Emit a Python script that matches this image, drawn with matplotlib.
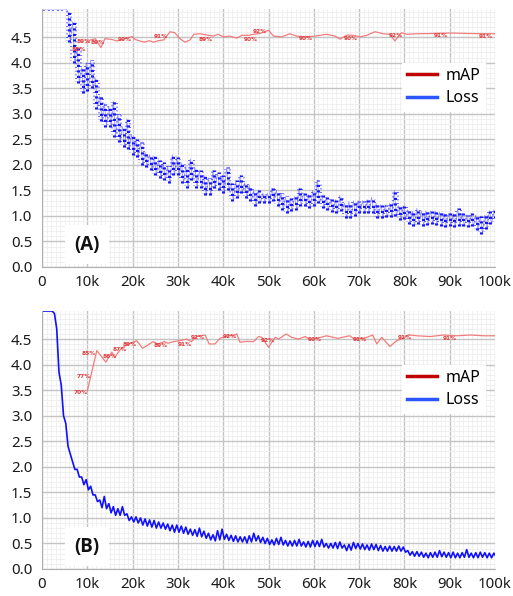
import numpy as np
import matplotlib
matplotlib.use("Agg")
import matplotlib.pyplot as plt
from matplotlib.lines import Line2D
from matplotlib.ticker import MultipleLocator

plt.rcParams['font.family'] = ['Noto Sans', 'DejaVu Sans']

# ---------------- data (iterations in thousands) ----------------
iters_k = list(range(0, 101))

# Panel A loss: lower / upper edge of the noisy band per 1k iterations (top = clipped)
lossA_lo = [5.05]*6 + [4.40, 4.00, 3.60, 3.40, 3.45, 3.50, 3.10, 2.85, 2.75, 2.75,
    2.55, 2.45, 2.35, 2.30, 2.20, 2.15, 2.00, 1.95, 1.90, 1.80,
    1.75, 1.70, 1.65, 1.80, 1.80, 1.65, 1.55, 1.70, 1.55, 1.55,
    1.40, 1.40, 1.55, 1.50, 1.45, 1.50, 1.30, 1.35, 1.45, 1.35,
    1.30, 1.20, 1.25, 1.25, 1.25, 1.30, 1.20, 1.12, 1.05, 1.10,
    1.12, 1.20, 1.20, 1.15, 1.20, 1.25, 1.15, 1.12, 1.08, 1.05,
    1.10, 0.95, 0.95, 1.00, 1.05, 1.05, 1.05, 1.05, 0.95, 0.95,
    0.97, 0.98, 1.00, 0.92, 0.93, 0.85, 0.80, 0.85, 0.80, 0.82,
    0.85, 0.82, 0.80, 0.78, 0.80, 0.78, 0.80, 0.80, 0.78, 0.80,
    0.72, 0.65, 0.75, 0.85, 0.95]
lossA_hi = [5.05]*6 + [5.00, 4.80, 4.30, 3.90, 4.00, 4.05, 3.70, 3.35, 3.20, 3.15,
    3.25, 3.00, 2.75, 2.90, 2.60, 2.50, 2.45, 2.25, 2.20, 2.17,
    2.10, 2.05, 1.97, 2.20, 2.15, 2.04, 1.97, 2.12, 1.95, 1.90,
    1.80, 1.75, 1.90, 1.85, 1.80, 1.95, 1.65, 1.70, 1.80, 1.65,
    1.60, 1.50, 1.50, 1.45, 1.45, 1.55, 1.50, 1.45, 1.38, 1.35,
    1.38, 1.55, 1.45, 1.42, 1.50, 1.70, 1.40, 1.37, 1.33, 1.32,
    1.40, 1.25, 1.28, 1.30, 1.30, 1.30, 1.32, 1.37, 1.25, 1.22,
    1.22, 1.25, 1.50, 1.20, 1.20, 1.12, 1.10, 1.15, 1.10, 1.10,
    1.10, 1.10, 1.08, 1.05, 1.05, 1.05, 1.15, 1.05, 1.02, 1.05,
    1.02, 1.00, 1.02, 1.10, 1.12]

# Panel B loss
lossB_lo = [5.05]*3 + [4.70, 3.60, 2.85, 2.25, 1.95, 1.80, 1.65, 1.55, 1.45, 1.32,
    1.20, 1.18, 1.10, 1.05, 1.05, 1.05, 0.95, 0.92, 0.90, 0.86,
    0.84, 0.82, 0.80, 0.80, 0.78, 0.75, 0.72, 0.72, 0.70, 0.68,
    0.66, 0.64, 0.63, 0.60, 0.57, 0.55, 0.57, 0.58, 0.56, 0.54,
    0.53, 0.53, 0.51, 0.53, 0.55, 0.52, 0.50, 0.48, 0.47, 0.48,
    0.47, 0.45, 0.45, 0.45, 0.45, 0.43, 0.43, 0.44, 0.44, 0.43,
    0.41, 0.41, 0.40, 0.41, 0.36, 0.37, 0.40, 0.39, 0.38, 0.37,
    0.38, 0.36, 0.35, 0.35, 0.35, 0.35, 0.35, 0.33, 0.27, 0.25,
    0.25, 0.23, 0.22, 0.23, 0.23, 0.24, 0.23, 0.22, 0.22, 0.22,
    0.23, 0.23, 0.22, 0.22, 0.23, 0.22, 0.22, 0.24]
lossB_hi = [5.05]*3 + [5.00, 3.85, 3.00, 2.40, 2.10, 1.95, 1.80, 1.75, 1.62, 1.45,
    1.35, 1.42, 1.28, 1.22, 1.18, 1.22, 1.08, 1.02, 1.02, 1.00,
    0.98, 0.96, 0.95, 0.92, 0.90, 0.88, 0.86, 0.86, 0.84, 0.82,
    0.78, 0.77, 0.80, 0.74, 0.70, 0.67, 0.75, 0.78, 0.68, 0.66,
    0.65, 0.63, 0.63, 0.65, 0.70, 0.65, 0.62, 0.60, 0.57, 0.60,
    0.62, 0.56, 0.55, 0.56, 0.58, 0.53, 0.54, 0.56, 0.55, 0.58,
    0.50, 0.50, 0.52, 0.53, 0.47, 0.48, 0.52, 0.50, 0.49, 0.47,
    0.49, 0.48, 0.46, 0.44, 0.45, 0.44, 0.45, 0.43, 0.36, 0.34,
    0.34, 0.33, 0.31, 0.32, 0.33, 0.36, 0.33, 0.32, 0.33, 0.31,
    0.32, 0.38, 0.31, 0.32, 0.33, 0.32, 0.31, 0.31]

# mAP (%) series
mapA_iters = [9.7, 10.7, 11.8, 13.0, 13.9, 15.3, 16.6, 17.8, 19.9, 20.5, 21.6, 22.6,
    23.7, 24.6, 25.7, 26.9, 27.6, 28.3, 29.3, 30.5, 31.6, 32.7, 33.5, 34.9, 36.4,
    37.8, 38.9, 40.0, 41.5, 43.0, 44.1, 45.6, 46.7, 48.1, 50.0, 51.1, 52.9, 54.7,
    56.2, 58.1, 60.3, 62.8, 64.7, 65.8, 67.3, 68.7, 70.2, 71.7, 73.5, 75.3, 76.8,
    77.9, 78.7, 79.4, 80.5, 82.7, 85.7, 90.1, 94.5, 100.0]
mapA_vals = [87.8, 88.9, 89.3, 85.9, 89.4, 89.1, 88.5, 89.1, 90.2, 89.1, 88.5, 88.0,
    88.6, 88.0, 88.6, 88.9, 90.6, 92.1, 91.7, 89.3, 88.0, 88.9, 91.1, 91.3, 90.8,
    90.4, 91.1, 90.1, 90.4, 89.6, 90.7, 90.7, 91.1, 91.4, 92.7, 90.4, 90.1, 91.3,
    90.4, 90.1, 90.4, 91.1, 90.4, 89.2, 90.8, 90.7, 90.1, 90.7, 92.1, 91.3, 91.1,
    88.5, 90.4, 91.7, 91.1, 91.3, 91.4, 91.6, 91.4, 91.3]
mapA_label_iters = [9.6, 10.7, 13.8, 19.9, 27.8, 37.8, 47.7, 49.6, 59.8, 69.8, 79.7, 89.6, 99.6]
mapA_label_texts = ["88%", "89%", "89%", "90%", "91%", "89%", "90%", "92%", "90%", "90%", "92%", "91%", "91%"]

mapB_iters = [10.0, 10.9, 12.1, 14.1, 15.4, 16.1, 17.1, 17.9, 19.0, 19.8, 20.9, 22.2,
    23.4, 24.5, 25.6, 27.0, 27.8, 29.0, 30.5, 31.9, 33.0, 34.1, 36.0, 36.9, 38.2,
    39.3, 40.8, 42.3, 43.0, 43.7, 45.2, 46.7, 47.8, 48.5, 50.0, 51.5, 52.2, 53.9,
    55.1, 56.6, 58.1, 59.2, 60.7, 62.8, 65.3, 67.9, 69.0, 71.2, 73.0, 73.9, 75.0,
    76.8, 78.3, 79.8, 80.9, 82.7, 85.7, 88.6, 91.6, 94.5, 97.5, 100.0]
mapB_vals = [69.7, 76.5, 85.5, 81.0, 84.9, 82.9, 85.5, 86.8, 88.1, 88.5, 89.4, 86.4,
    87.7, 89.0, 88.1, 89.0, 88.4, 89.0, 89.4, 90.0, 89.0, 91.0, 91.6, 88.1, 88.1,
    90.3, 91.3, 91.3, 92.1, 88.8, 89.1, 89.0, 91.0, 90.7, 86.8, 90.7, 90.0, 92.0,
    90.7, 90.0, 91.0, 89.8, 90.3, 91.3, 90.3, 91.3, 90.0, 90.3, 91.6, 88.1, 90.7,
    87.1, 89.4, 90.3, 91.7, 91.3, 91.0, 91.6, 91.3, 91.6, 91.3, 91.3]
mapB_label_iters = [10.0, 10.8, 11.9, 16.5, 18.7, 20.9, 27.8, 33.0, 36.0, 43.0, 51.4, 61.7, 71.7, 81.6, 91.5]
mapB_label_texts = ["70%", "77%", "85%", "86%", "87%", "89%", "89%", "91%", "92%", "92%", "92%", "90%", "91%", "91%", "91%"]

panel_names = ["(A)", "(B)"]
legend_labels = ["mAP", "Loss"]
x_ticks_k = list(range(0, 101, 10))
y_ticks = [0.0, 0.5, 1.0, 1.5, 2.0, 2.5, 3.0, 3.5, 4.0, 4.5]

YMAX = 5.05
MAP_SCALE = 20.0  # 100% mAP drawn at y = 5

# small vertical nudges (pixels) for the percentage labels, style only
labelA_dy = [-6.5, -1.5, -2.5, -2.5, -2.5, -3.5, -5.5, -1.0, -2.5, -2.5, -2.5, -2.5, -2.5]
labelB_dy = [-1.5, -1.0, 1.0, -1.5, -4.5, -3.5, -2.5, -2.5, -2.5, -2.5, -2.5, -2.5, -2.5, -2.5, -2.5]

fig = plt.figure(figsize=(5.13, 5.96), dpi=100)
axA = fig.add_axes([42/513, (596-267)/596, 453/513, 258/596])
axB = fig.add_axes([42/513, (596-569)/596, 453/513, 258/596])


def zigzag(lo, hi):
    xs, ys = [], []
    for k, l, h in zip(iters_k, lo, hi):
        xs += [(k - 0.25) * 1000, (k + 0.25) * 1000]
        ys += [min(h, YMAX), min(l, YMAX)]
    return np.array(xs), np.array(ys)


def style(ax):
    ax.set_xlim(0, 100000)
    ax.set_ylim(0, YMAX)
    ax.xaxis.set_minor_locator(MultipleLocator(1000))
    ax.set_yticks(y_ticks)
    ax.yaxis.set_minor_locator(MultipleLocator(0.1))
    ax.set_xticks([k * 1000 for k in x_ticks_k])
    ax.set_xticklabels(["0" if k == 0 else f"{k}k" for k in x_ticks_k])
    ax.set_yticklabels([f"{v:.1f}" for v in y_ticks])
    ax.grid(which='minor', color='#eeeeee', lw=0.6)
    ax.grid(which='major', color='#c4c4c4', lw=1.0)
    ax.set_axisbelow(True)
    for s in ['top', 'right']:
        ax.spines[s].set_visible(False)
    for s in ['left', 'bottom']:
        ax.spines[s].set_color('#b0b0b0')
    ax.tick_params(which='both', length=0, labelsize=10.8, colors='#1a1a1a')
    ax.tick_params(axis='x', pad=6)
    ax.tick_params(axis='y', pad=7)


def draw_map(ax, it, vals, lab_it, lab_txt, lab_dy):
    x = np.array(it) * 1000
    y = np.array(vals) / MAP_SCALE
    ax.plot(x, y, color='#f07070', lw=0.9, alpha=0.9, zorder=3)
    for k, t, dy in zip(lab_it, lab_txt, lab_dy):
        yy = np.interp(k, it, vals) / MAP_SCALE
        ax.annotate(t, (k * 1000, yy), xytext=(0, dy), textcoords='offset pixels',
                    ha='right', va='center', fontsize=4.2, color='#e03a3a',
                    family='DejaVu Sans', fontweight='bold', zorder=4)


def draw_legend(ax):
    handles = [Line2D([], [], color='#c00000', lw=2.5),
               Line2D([], [], color='#2a55ff', lw=2.5)]
    leg = ax.legend(handles, legend_labels, loc='upper right',
                    bbox_to_anchor=((485-42)/453, (267-63)/258),
                    fontsize=11.5, frameon=True, fancybox=False, framealpha=1,
                    edgecolor='white', facecolor='white', handlelength=1.9,
                    handletextpad=0.5, labelspacing=0.4, borderpad=0.3,
                    borderaxespad=0)
    leg.set_zorder(10)


def draw_name(ax, name):
    ax.text(0.099, 0.087, name, transform=ax.transAxes, ha='center', va='center',
            fontsize=13.5, fontweight='bold', color='#111111', zorder=10,
            family=['Open Sans', 'DejaVu Sans'],
            bbox=dict(boxstyle='square,pad=0.5', fc='white', ec='none'))


# Panel A: speckled band of loss samples
style(axA)
xa, ya = zigzag(lossA_lo, lossA_hi)
ks = np.array(iters_k) * 1000
loA = np.minimum(lossA_lo, YMAX)
hiA = np.minimum(lossA_hi, YMAX)
axA.plot(xa, ya, color='#3030ff', lw=0.5, alpha=0.55, zorder=2)
axA.vlines(ks, loA, hiA, color='#1515ff', lw=2.2, linestyles=(0, (0.7, 1.1)), zorder=2)
axA.vlines(ks + 500, np.minimum(loA, np.roll(loA, -1)) + 0.03,
           np.maximum(hiA, np.roll(hiA, -1)) - 0.03,
           color='#2a2aff', lw=1.2, linestyles=(0.4, (0.6, 1.6)), alpha=0.8, zorder=2)
draw_map(axA, mapA_iters, mapA_vals, mapA_label_iters, mapA_label_texts, labelA_dy)
draw_legend(axA)
draw_name(axA, panel_names[0])

# Panel B
style(axB)
xb, yb = zigzag(lossB_lo, lossB_hi)
axB.plot(xb, yb, color='#1010ff', lw=1.2, zorder=2)
draw_map(axB, mapB_iters, mapB_vals, mapB_label_iters, mapB_label_texts, labelB_dy)
draw_legend(axB)
draw_name(axB, panel_names[1])

fig.savefig("out.png", dpi=100, facecolor='white')
